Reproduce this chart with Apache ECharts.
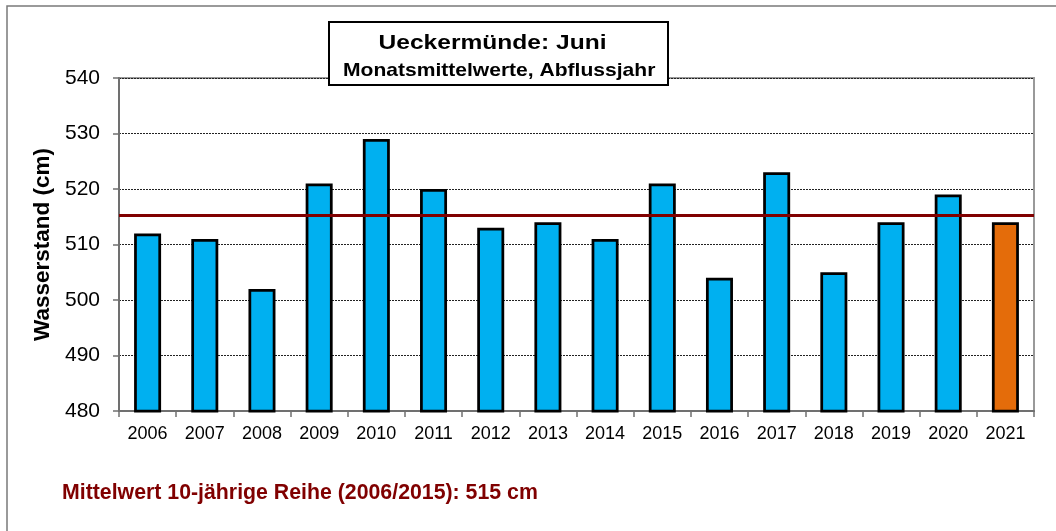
<!DOCTYPE html>
<html><head><meta charset="utf-8">
<script src="https://cdn.jsdelivr.net/npm/echarts@6/dist/echarts.min.js"></script>
<style>html,body{margin:0;padding:0;background:#fff}#c{width:1056px;height:531px}</style>
</head><body><div id="c"></div>
<script>
const years = ['2006','2007','2008','2009','2010','2011','2012','2013','2014','2015','2016','2017','2018','2019','2020','2021'];
const values = [512,511,502,521,529,520,513,514,511,521,504,523,505,514,519,514];
const meanValue = 515.3;
const titleText = 'Ueckermünde: Juni';
const subText = 'Monatsmittelwerte, Abflussjahr';
const yName = 'Wasserstand (cm)';
const footText = 'Mittelwert 10-jährige Reihe (2006/2015): 515 cm';

const chart = echarts.init(document.getElementById('c'));
const font = '"Liberation Sans", Arial, sans-serif';
chart.setOption({
  animation: false,
  grid: {left: 119, right: 22, top: 78, bottom: 120, show: true, borderColor: '#999', borderWidth: 2, backgroundColor: 'transparent'},
  xAxis: {
    type: 'category', data: years,
    axisLine: {lineStyle: {color: '#707070', width: 2}},
    axisTick: {show: true, alignWithLabel: false, length: 6, lineStyle: {color: '#707070', width: 1.5}},
    axisLabel: {color: '#000', fontSize: 18, fontFamily: font, margin: 14}
  },
  yAxis: {
    type: 'value', min: 480, max: 540, interval: 10,
    name: yName, nameLocation: 'middle', nameGap: 62, nameRotate: 90,
    nameTextStyle: {color: '#000', fontSize: 22.5, fontWeight: 'bold', fontFamily: font},
    axisLine: {show: true, lineStyle: {color: '#707070', width: 2}},
    axisTick: {show: true, inside: false, length: 6, lineStyle: {color: '#707070', width: 1.5}},
    axisLabel: {color: '#000', fontSize: 21, fontFamily: font, margin: 19},
    splitLine: {show: true, lineStyle: {color: '#222', type: [2, 1], width: 1}}
  },
  series: [{
    type: 'bar', data: values.map((v, i) => ({value: v, itemStyle: {color: i === values.length - 1 ? '#E46C0A' : '#00B0F0'}})),
    barWidth: 27,
    itemStyle: {borderColor: '#000', borderWidth: 2.75},
    markLine: {
      silent: true, symbol: 'none', label: {show: false},
      lineStyle: {color: '#800000', width: 3, type: 'solid'},
      data: [{yAxis: meanValue}]
    },
    z: 2
  }],
  graphic: [
    {type: 'rect', x: 7, y: 6, shape: {x: 0, y: 0, width: 1060, height: 540}, style: {fill: 'none', stroke: '#7a7a7a', lineWidth: 1.5}, z: 0},
    {type: 'rect', x: 329, y: 22, shape: {x: 0, y: 0, width: 339, height: 63}, style: {fill: '#fff', stroke: '#000', lineWidth: 2}, z: 10},
    {type: 'text', x: 378.5, y: 33.7, scaleX: 1.26, style: {text: titleText, fill: '#000', font: 'bold 19.5px ' + font, align: 'left', verticalAlign: 'top'}, z: 11},
    {type: 'text', x: 343, y: 61.5, scaleX: 1.108, style: {text: subText, fill: '#000', font: 'bold 19px ' + font, align: 'left', verticalAlign: 'top'}, z: 11},
    {type: 'text', x: 62, y: 482.4, style: {text: footText, fill: '#800000', font: 'bold 21.3px ' + font, align: 'left', verticalAlign: 'top'}, z: 11}
  ]
});
</script></body></html>
